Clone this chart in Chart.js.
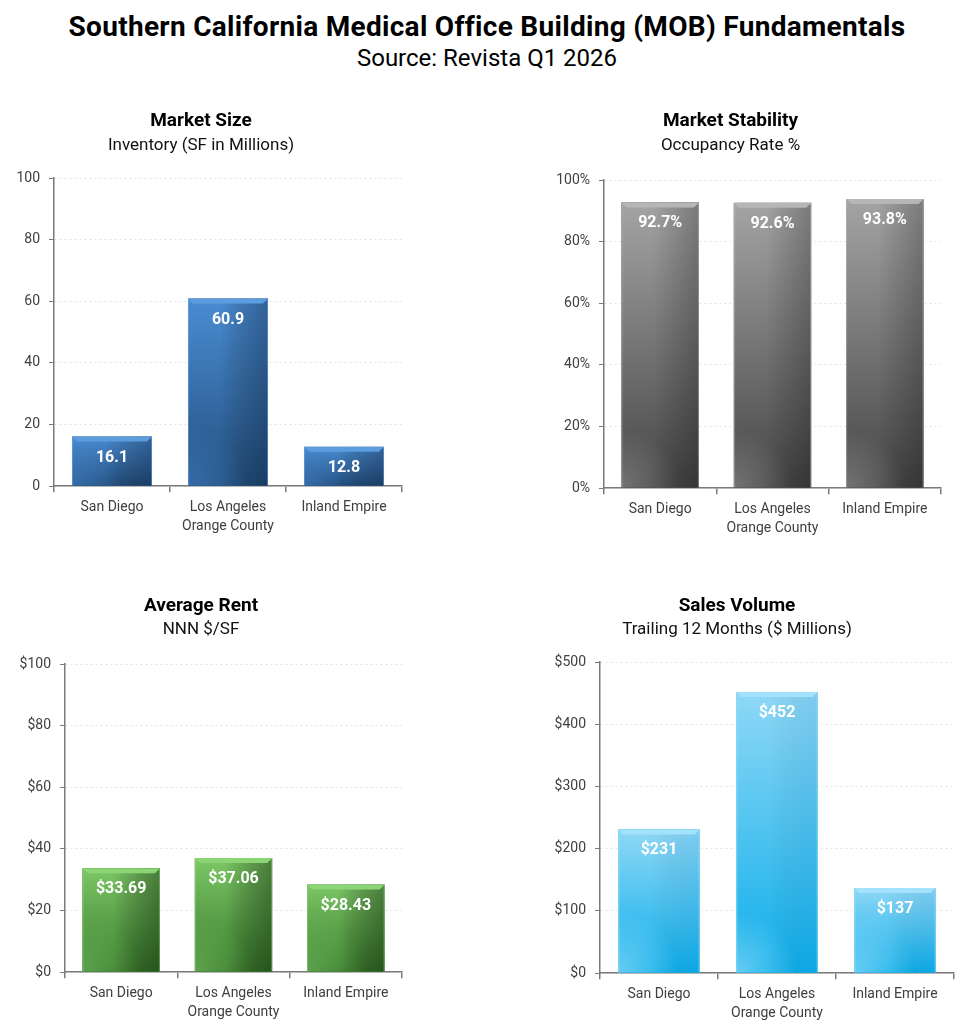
<!DOCTYPE html>
<html lang="en">
<head>
<meta charset="UTF-8">
<title>Southern California MOB Fundamentals</title>
<script src="https://cdn.jsdelivr.net/npm/chart.js@4.4.1/dist/chart.umd.min.js"></script>
<style>
    body { margin: 0; background: #fff; font-family: Roboto, sans-serif; }
    #page { position: relative; width: 974px; height: 1030px; }
    #head { position: absolute; top: 10px; left: 0; width: 974px; text-align: center; color: #000; line-height: 1.2; }
    #head .main { font-size: 28px; font-weight: 700; letter-spacing: 0.3px; }
    #head .src { font-size: 24px; margin-top: 0px; }
    canvas { position: absolute; }
</style>
</head>
<body>
<div id="page">
    <div id="head">
        <div class="main">Southern California Medical Office Building (MOB) Fundamentals</div>
        <div class="src">Source: Revista Q1 2026</div>
    </div>
    <canvas id="size" width="420" height="445" style="left:0;top:100px"></canvas>
    <canvas id="occ" width="442" height="445" style="left:520px;top:100px"></canvas>
    <canvas id="rent" width="414" height="440" style="left:0;top:590px"></canvas>
    <canvas id="sales" width="442" height="440" style="left:520px;top:590px"></canvas>
</div>
<script>
    // data
    const regions = ['San Diego', ['Los Angeles', 'Orange County'], 'Inland Empire'];
    const inventory = [16.1, 60.9, 12.8];      // SF in millions
    const occupancy = [92.7, 92.6, 93.8];      // %
    const rent = [33.69, 37.06, 28.43];        // NNN $/SF
    const salesVolume = [231, 452, 137];       // $ millions, trailing 12 months

    const sizeTicks = [0, 20, 40, 60, 80, 100];
    const occTicks = [0, 20, 40, 60, 80, 100];
    const rentTicks = [0, 20, 40, 60, 80, 100];
    const salesTicks = [0, 100, 200, 300, 400, 500];

    const AXIS = '#7a7a7a';

    // paints each bar with a shaded fill, a top bevel and its value
    const barStyle = {
        id: 'barStyle',
        afterDatasetsDraw(chart, args, opts) {
            const ctx = chart.ctx;
            const c = opts.colors;
            const values = chart.data.datasets[0].data;
            chart.getDatasetMeta(0).data.forEach((bar, i) => {
                const { x, y, base, width } = bar.getProps(['x', 'y', 'base', 'width'], true);
                const l = x - width / 2, r = x + width / 2, h = base - y;
                ctx.save();
                ctx.beginPath();
                ctx.rect(l, y, width, h);
                ctx.clip();

                let g = ctx.createLinearGradient(0, y, 0, base);
                g.addColorStop(0, c.top);
                g.addColorStop(1, c.bottom);
                ctx.fillStyle = g;
                ctx.fillRect(l, y, width, h);

                // darker towards the right edge
                g = ctx.createLinearGradient(l, 0, r, 0);
                g.addColorStop(0, 'rgba(0,0,0,0)');
                g.addColorStop(0.4, 'rgba(0,0,0,0)');
                g.addColorStop(1, c.shade);
                ctx.fillStyle = g;
                ctx.fillRect(l, y, width, h);

                // soft glow in the bottom left corner
                const rad = Math.min(width * 0.75, h);
                g = ctx.createRadialGradient(l, base, 0, l, base, rad);
                g.addColorStop(0, c.glow);
                g.addColorStop(1, c.glow.replace(/[\d.]+\)$/, '0)'));
                ctx.fillStyle = g;
                ctx.fillRect(l, y, width, h);

                // top bevel
                ctx.beginPath();
                ctx.moveTo(l, y);
                ctx.lineTo(r, y);
                ctx.lineTo(r - 5, y + 5);
                ctx.lineTo(l + 5, y + 5);
                ctx.closePath();
                ctx.fillStyle = c.bevel;
                ctx.fill();

                // thin light edges
                ctx.strokeStyle = c.edge;
                ctx.lineWidth = 1;
                ctx.beginPath();
                ctx.moveTo(l + 0.5, y);
                ctx.lineTo(l + 0.5, base);
                ctx.moveTo(r - 0.5, y);
                ctx.lineTo(r - 0.5, base);
                ctx.stroke();
                ctx.restore();

                ctx.save();
                ctx.fillStyle = '#fff';
                ctx.font = 'bold 16px Roboto';
                ctx.textAlign = 'center';
                ctx.textBaseline = 'middle';
                ctx.fillText(opts.fmt(values[i]), x, y + 21);
                ctx.restore();
            });
        }
    };

    function makeChart(id, cfg) {
        const tf = 19 * 1.2, sf = 17 * 1.2;
        return new Chart(document.getElementById(id), {
            type: 'bar',
            data: {
                labels: regions,
                datasets: [{ data: cfg.values, backgroundColor: cfg.colors.bottom, barPercentage: 0.69, categoryPercentage: 1 }]
            },
            plugins: [barStyle],
            options: {
                responsive: false,
                animation: false,
                events: [],
                layout: { padding: { left: 0, right: cfg.padRight, top: 0, bottom: cfg.padBottom } },
                plugins: {
                    legend: { display: false },
                    tooltip: { enabled: false },
                    title: {
                        display: true,
                        text: cfg.title,
                        color: '#000',
                        font: { family: 'Roboto', size: 19, weight: 'bold' },
                        padding: { top: cfg.titleY - tf / 2, bottom: (cfg.subY - sf / 2) - (cfg.titleY + tf / 2) }
                    },
                    subtitle: {
                        display: true,
                        text: cfg.subtitle,
                        color: '#111',
                        font: { family: 'Roboto', size: 17 },
                        padding: { top: 0, bottom: cfg.plotTop - (cfg.subY + sf / 2) }
                    },
                    barStyle: { colors: cfg.colors, fmt: cfg.fmt }
                },
                scales: {
                    x: {
                        grid: { drawOnChartArea: false, color: AXIS, tickLength: 6, lineWidth: 1.5 },
                        border: { color: AXIS, width: 1.5 },
                        ticks: { color: '#404040', padding: 6, font: { family: 'Roboto', size: 14, lineHeight: 1.35 } }
                    },
                    y: {
                        min: cfg.ticks[0],
                        max: cfg.ticks[cfg.ticks.length - 1],
                        afterFit: scale => { scale.width = cfg.axisWidth; },
                        afterBuildTicks: scale => { scale.ticks = cfg.ticks.map(v => ({ value: v })); },
                        grid: { color: '#e3e3e3', tickColor: AXIS, tickLength: 5, tickBorderDash: [], lineWidth: 1 },
                        border: { color: AXIS, width: 1.5, dash: [2, 3] },
                        ticks: { color: '#404040', padding: 9, font: { family: 'Roboto', size: 14 }, callback: cfg.tickFmt }
                    }
                }
            }
        });
    }

    makeChart('size', {
        values: inventory, ticks: sizeTicks,
        title: 'Market Size', subtitle: 'Inventory (SF in Millions)',
        titleY: 21, subY: 46, plotTop: 78, axisWidth: 54, padRight: 18, padBottom: 3,
        tickFmt: v => v, fmt: v => v.toFixed(1),
        colors: { top: '#4a8cd2', bottom: '#23507f', shade: 'rgba(10,25,50,0.35)', glow: 'rgba(75,140,215,0.45)', bevel: '#5c9de0', edge: 'rgba(120,175,235,0.5)' }
    });

    makeChart('occ', {
        values: occupancy, ticks: occTicks,
        title: 'Market Stability', subtitle: 'Occupancy Rate %',
        titleY: 21, subY: 46, plotTop: 80, axisWidth: 84, padRight: 21, padBottom: 1,
        tickFmt: v => v + '%', fmt: v => v.toFixed(1) + '%',
        colors: { top: '#a4a4a4', bottom: '#464646', shade: 'rgba(0,0,0,0.25)', glow: 'rgba(170,170,170,0.45)', bevel: '#b6b6b6', edge: 'rgba(200,200,200,0.5)' }
    });

    makeChart('rent', {
        values: rent, ticks: rentTicks,
        title: 'Average Rent', subtitle: 'NNN $/SF',
        titleY: 16, subY: 40, plotTop: 74, axisWidth: 65, padRight: 12, padBottom: 2,
        tickFmt: v => '$' + v, fmt: v => '$' + v.toFixed(2),
        colors: { top: '#7cc766', bottom: '#3a7a2c', shade: 'rgba(15,40,10,0.45)', glow: 'rgba(125,200,105,0.5)', bevel: '#8bd575', edge: 'rgba(160,220,140,0.5)' }
    });

    makeChart('sales', {
        values: salesVolume, ticks: salesTicks,
        title: 'Sales Volume', subtitle: 'Trailing 12 Months ($ Millions)',
        titleY: 16, subY: 40, plotTop: 72, axisWidth: 80, padRight: 8, padBottom: 1,
        tickFmt: v => '$' + v, fmt: v => '$' + v,
        colors: { top: '#8fd8f6', bottom: '#0eaeea', shade: 'rgba(0,120,200,0.12)', glow: 'rgba(175,228,250,0.55)', bevel: '#a2e2fa', edge: 'rgba(190,235,252,0.6)' }
    });
</script>
</body>
</html>
